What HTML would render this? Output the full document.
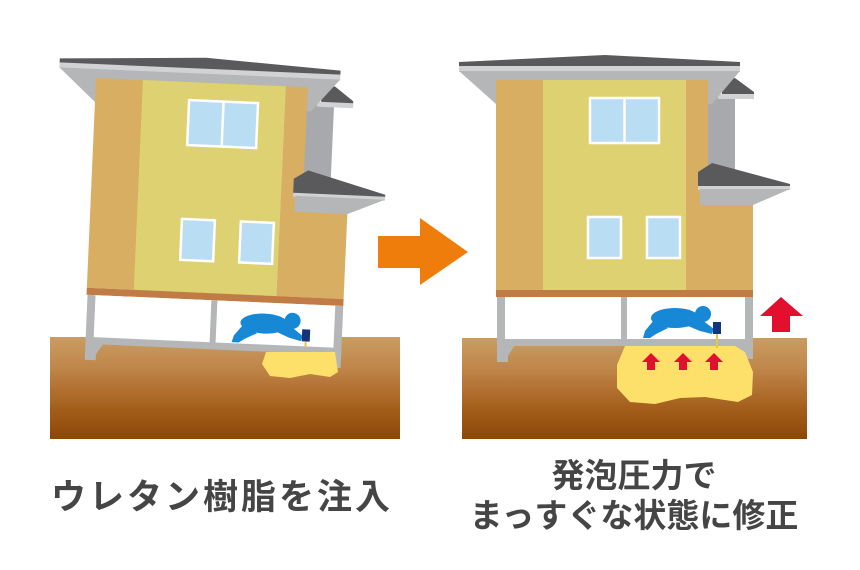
<!DOCTYPE html>
<html><head><meta charset="utf-8"><style>
html,body{margin:0;padding:0;background:#fff;width:860px;height:570px;overflow:hidden}
svg{display:block}
text{font-family:"Liberation Sans","Noto Sans CJK JP",sans-serif;font-weight:bold;fill:#454545}
</style></head><body>
<svg width="860" height="570" viewBox="0 0 860 570" xmlns="http://www.w3.org/2000/svg">
<defs>
<linearGradient id="gr" x1="0" y1="0" x2="0" y2="1">
<stop offset="0" stop-color="#c99d62"/><stop offset="0.3" stop-color="#c0864a"/><stop offset="0.7" stop-color="#a45e1c"/><stop offset="1" stop-color="#8c4606"/>
</linearGradient>
<g id="house">
<polygon points="700,95 735,95 735,175 700,175" fill="#a7a9ac"/>
<polygon points="722,82 735,78 754,92 754,96 722,96" fill="#5a5a5c"/>
<polygon points="718,94 754,94 754,99 718,99" fill="#d0d2d4"/>
<polygon points="459,62 605,55 740,62 740,67 459,67" fill="#5a5a5c"/>
<polygon points="459,66 740,66 740,72 459,72" fill="#d0d2d4"/>
<polygon points="459,71 740,71 712,104 496,104" fill="#b4b6b8"/>
<rect x="496" y="80" width="212" height="210" fill="#d8ae62"/>
<rect x="543" y="80" width="143" height="210" fill="#ded172"/>
<rect x="686" y="187" width="67" height="103" fill="#d8ae62"/>
<polygon points="698,172 712,163 790,184 790,188 698,188" fill="#5a5a5c"/>
<polygon points="698,186 790,186 790,190 698,190" fill="#d0d2d4"/>
<polygon points="700,189 790,189 753,205 700,205" fill="#b4b6b8"/>
<rect x="590" y="98" width="69" height="45" fill="#b9ddf3" stroke="#fff" stroke-width="2.5"/>
<line x1="624.5" y1="98" x2="624.5" y2="143" stroke="#fff" stroke-width="2.5"/>
<rect x="588" y="217" width="33" height="41" fill="#b9ddf3" stroke="#fff" stroke-width="2.5"/>
<rect x="647" y="217" width="33" height="41" fill="#b9ddf3" stroke="#fff" stroke-width="2.5"/>
<rect x="496" y="290" width="257" height="7" fill="#c17b45"/>
<rect x="502" y="297" width="246" height="43" fill="#fff"/>
<rect x="497" y="297" width="8" height="48" fill="#b4b6b8"/>
<rect x="621" y="297" width="6" height="45" fill="#b4b6b8"/>
<rect x="745" y="297" width="8" height="62" fill="#b4b6b8"/>
<rect x="497" y="339" width="256" height="7" fill="#b4b6b8"/>
<polygon points="497,345 515,345 508,356 508,362 497,362" fill="#b4b6b8"/>
<polygon points="735,346 745,346 745,352" fill="#b4b6b8"/>
<!-- person -->
<g fill="#1788d6">
<ellipse cx="675" cy="318" rx="24" ry="10"/>
<circle cx="703" cy="314" r="8"/>
<polygon points="654,320 668,328 656,334 650,338 643,338 645,331"/>
<polygon points="692,316 702,320 714,329 712,334 700,331 688,326"/>
</g>
<rect x="713" y="322" width="8" height="12" fill="#14357a"/>
<rect x="716" y="334" width="2" height="6" fill="#e8c54a"/>
</g>
<g id="arr"><polygon points="-4,0 4,0 4,-8 9,-8 0,-17 -9,-8 -4,-8" fill="#e0102e"/></g>
</defs>

<rect x="50" y="337" width="350" height="102" fill="url(#gr)"/>
<use href="#house" transform="translate(-400,-2) rotate(2.5,496,80)"/>
<path d="M266,352 L335,352 L338,372 L330,377 L310,374 L290,378 L270,376 L262,364 Z" fill="#fde069"/>

<polygon points="378,236 420,236 420,218 468,252 420,285 420,268 378,268" fill="#ef7d0b"/>

<rect x="462" y="338" width="345" height="101" fill="url(#gr)"/>
<use href="#house"/>
<path d="M625,346 L735,346 L745,352 L753,372 L752,395 L738,402 L705,397 L680,398 L655,404 L630,402 L617,388 L617,365 Z" fill="#fde069"/>
<rect x="716" y="340" width="2" height="8" fill="#e8c54a"/>
<use href="#arr" transform="translate(651,370)"/>
<use href="#arr" transform="translate(683,370)"/>
<use href="#arr" transform="translate(714,370)"/>
<polygon points="772,332 790,332 790,316 803,316 781,297 760,316 772,316" fill="#e0102e"/>

<text x="222" y="509" font-size="35" text-anchor="middle" letter-spacing="3">ウレタン樹脂を注入</text>
<text x="634" y="487" font-size="33" text-anchor="middle">発泡圧力で</text>
<text x="634" y="527" font-size="33" text-anchor="middle">まっすぐな状態に修正</text>
</svg>
</body></html>
